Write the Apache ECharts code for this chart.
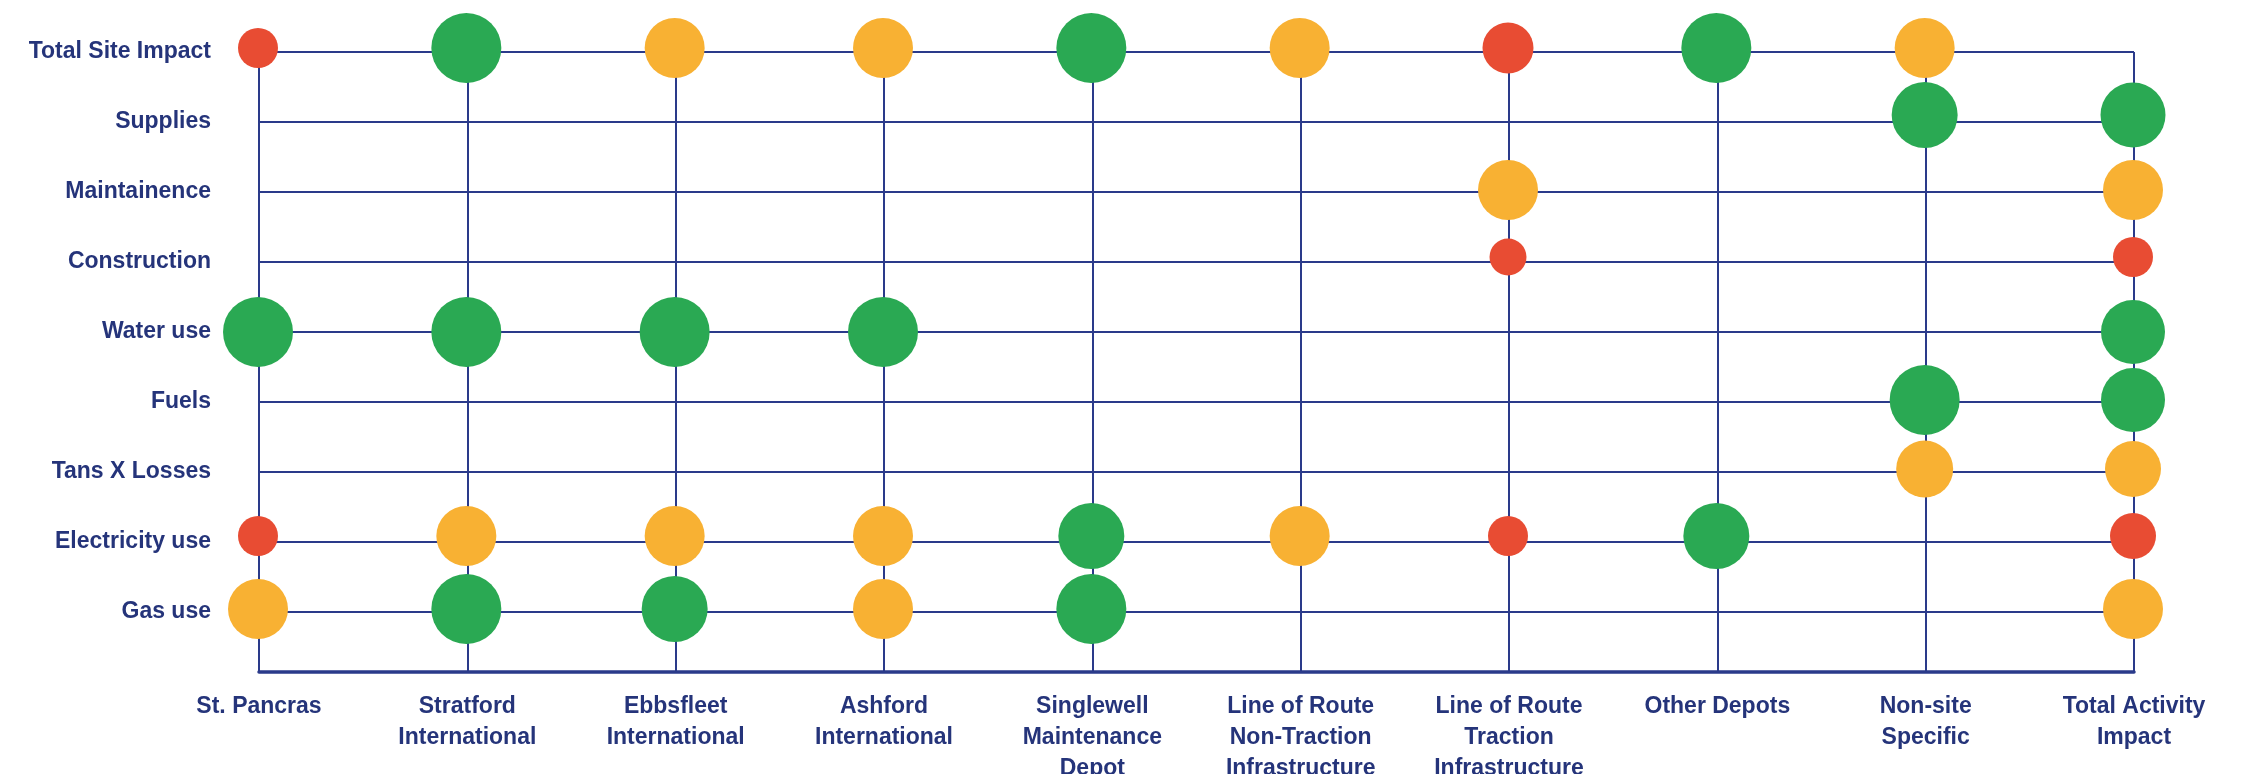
<!DOCTYPE html>
<html>
<head>
<meta charset="utf-8">
<title>Impact by site and activity</title>
<script src="https://cdn.jsdelivr.net/npm/echarts@6/dist/echarts.min.js"></script>
<style>
  html, body { margin: 0; padding: 0; background: #ffffff; }
  #chart { width: 2241px; height: 774px; }
</style>
</head>
<body>
<div id="chart"></div>
<script>
// Sites / activities along the bottom
const columnNames = [
  'St. Pancras',
  'Stratford\nInternational',
  'Ebbsfleet\nInternational',
  'Ashford\nInternational',
  'Singlewell\nMaintenance\nDepot',
  'Line of Route\nNon-Traction\nInfrastructure',
  'Line of Route\nTraction\nInfrastructure',
  'Other Depots',
  'Non-site\nSpecific',
  'Total Activity\nImpact'
];

// Impact sources, listed top to bottom
const rowNames = [
  'Total Site Impact',
  'Supplies',
  'Maintainence',
  'Construction',
  'Water use',
  'Fuels',
  'Tans X Losses',
  'Electricity use',
  'Gas use'
];

// Marks per rating: [column index, row index, relative magnitude]
const redMarks = [
  [0, 0, 4.0], [6, 0, 5.1],
  [6, 3, 3.7], [9, 3, 4.0],
  [0, 7, 4.0], [6, 7, 4.0], [9, 7, 4.6]
];
const amberMarks = [
  [2, 0, 6.0], [3, 0, 6.0], [5, 0, 6.0], [8, 0, 6.0],
  [6, 2, 6.0], [9, 2, 6.0],
  [8, 6, 5.7], [9, 6, 5.6],
  [1, 7, 6.0], [2, 7, 6.0], [3, 7, 6.0], [5, 7, 6.0],
  [0, 8, 6.0], [3, 8, 6.0], [9, 8, 6.0]
];
const greenMarks = [
  [1, 0, 7.0], [4, 0, 7.0], [7, 0, 7.0],
  [8, 1, 6.6], [9, 1, 6.5],
  [0, 4, 7.0], [1, 4, 7.0], [2, 4, 7.0], [3, 4, 7.0], [9, 4, 6.4],
  [8, 5, 7.0], [9, 5, 6.4],
  [4, 7, 6.6], [7, 7, 6.6],
  [1, 8, 7.0], [2, 8, 6.6], [4, 8, 7.0]
];

// Styling
const NAVY_LINE = '#2A3A8A';
const NAVY_TEXT = '#25347A';
const COLORS = { red: '#E84C33', amber: '#F8B133', green: '#2AA953' };
const SIZE_SCALE = 10;
// small upward nudge of the bubbles in each row (px)
const rowNudge = [-4, -7, -2, -5, 0, -2, -3, -6, -3];
const FONT = '"Liberation Sans", Arial, sans-serif';

function toItems(list) {
  return list.map(function (m) {
    return {
      value: [m[0], m[1], m[2]],
      symbolSize: m[2] * SIZE_SCALE,
      symbolOffset: [-1, rowNudge[m[1]]]
    };
  });
}

function bubbleSeries(name, list, color) {
  return {
    name: name,
    type: 'scatter',
    symbol: 'circle',
    data: toItems(list),
    itemStyle: { color: color, opacity: 1 },
    emphasis: { disabled: true },
    z: 5
  };
}

const lastRow = rowNames.length - 1;
const chart = echarts.init(document.getElementById('chart'), null, { renderer: 'canvas' });

chart.setOption({
  animation: false,
  backgroundColor: '#ffffff',
  grid: {
    left: 259, right: 107, top: 52, bottom: 102,
    containLabel: false,
    // the bottom labels are allowed to run off the lower edge
    outerBoundsMode: 'none'
  },
  xAxis: {
    type: 'value',
    min: 0,
    max: columnNames.length - 1,
    interval: 1,
    position: 'bottom',
    axisLine: { show: true, onZero: false, lineStyle: { color: NAVY_LINE, width: 3.5 } },
    axisTick: { show: false },
    splitLine: { show: true, lineStyle: { color: NAVY_LINE, width: 2 } },
    axisLabel: {
      show: true,
      margin: 19,
      color: NAVY_TEXT,
      fontFamily: FONT,
      fontWeight: 'bold',
      fontSize: 23,
      lineHeight: 31,
      align: 'center',
      verticalAlign: 'top',
      showMinLabel: true,
      showMaxLabel: true,
      formatter: function (v) {
        const i = Math.round(v);
        return Math.abs(v - i) < 1e-6 && columnNames[i] ? columnNames[i] : '';
      }
    }
  },
  yAxis: {
    type: 'value',
    inverse: true,
    min: 0,
    // the last row sits a little above the bottom axis
    max: lastRow + 6 / 7,
    interval: 1,
    axisLine: { show: false },
    axisTick: { show: false },
    splitLine: { show: true, lineStyle: { color: NAVY_LINE, width: 2 } },
    axisLabel: {
      show: true,
      margin: 48,
      color: NAVY_TEXT,
      fontFamily: FONT,
      fontWeight: 'bold',
      fontSize: 23,
      align: 'right',
      formatter: function (v) {
        const i = Math.round(v);
        return Math.abs(v - i) < 1e-6 && rowNames[i] ? rowNames[i] : '';
      }
    }
  },
  series: [
    bubbleSeries('Red', redMarks, COLORS.red),
    bubbleSeries('Amber', amberMarks, COLORS.amber),
    bubbleSeries('Green', greenMarks, COLORS.green)
  ]
});
</script>
</body>
</html>
